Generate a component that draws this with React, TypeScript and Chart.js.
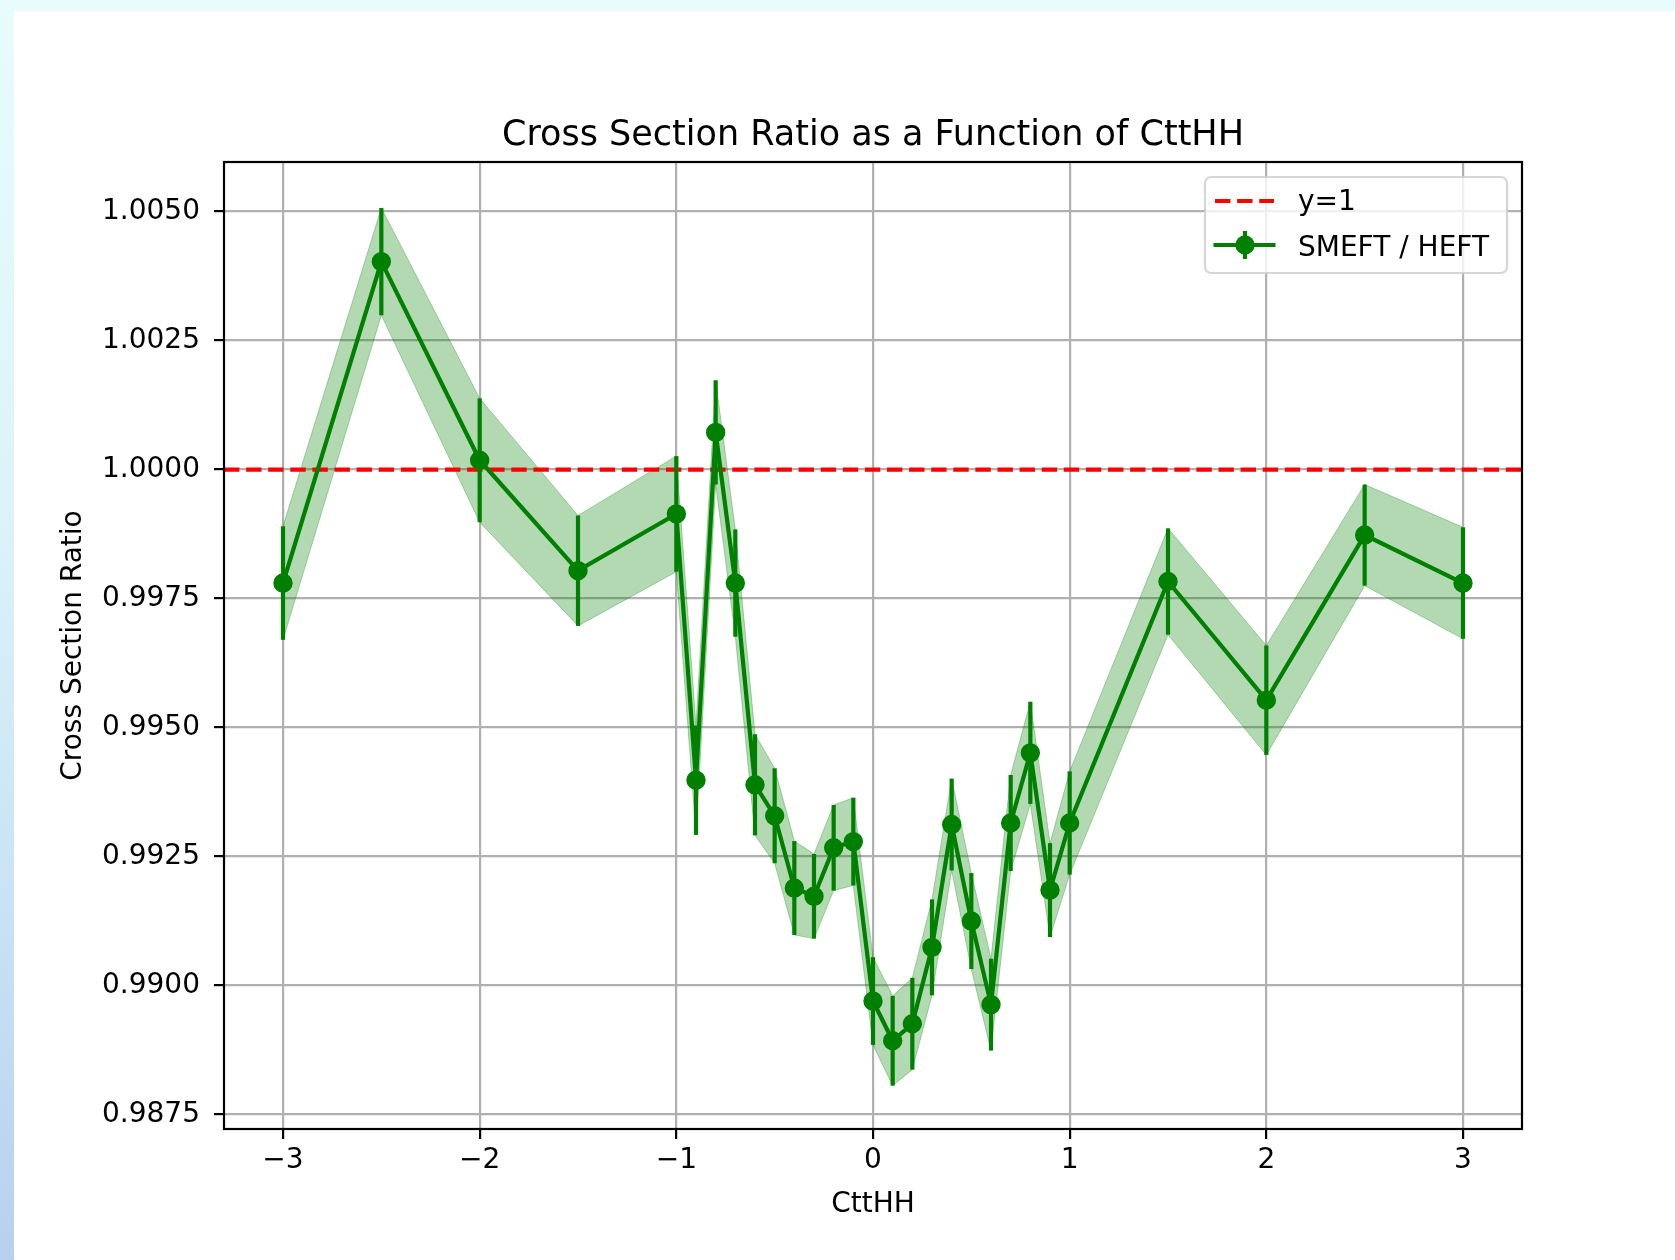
import React, { useEffect, useRef } from 'react';
import { Chart, registerables } from 'chart.js';

Chart.register(...registerables);

// ---------------- data ----------------
const CTTHH = [-3, -2.5, -2, -1.5, -1, -0.9, -0.8, -0.7, -0.6, -0.5, -0.4, -0.3, -0.2, -0.1, 0, 0.1, 0.2, 0.3, 0.4, 0.5, 0.6, 0.7, 0.8, 0.9, 1, 1.5, 2, 2.5, 3];
const RATIO = [0.9978, 1.00403, 1.00018, 0.99804, 0.99914, 0.99398, 1.00072, 0.9978, 0.99389, 0.99329, 0.99189, 0.99173, 0.99267, 0.99279, 0.9897, 0.98893, 0.98926, 0.99074, 0.99312, 0.99125, 0.98963, 0.99315, 0.99451, 0.99185, 0.99315, 0.99783, 0.99553, 0.99873, 0.9978];
const RATIO_ERR = [0.0011, 0.00104, 0.0012, 0.00107, 0.00112, 0.00106, 0.00101, 0.00104, 0.00098, 0.00092, 0.00091, 0.00082, 0.00083, 0.00085, 0.00085, 0.00087, 0.00089, 0.00093, 0.00089, 0.00093, 0.00089, 0.00093, 0.00099, 0.00091, 0.001, 0.00103, 0.00106, 0.00098, 0.00108];
const X_TICKS = [-3, -2, -1, 0, 1, 2, 3];
const Y_TICKS = [0.9875, 0.99, 0.9925, 0.995, 0.9975, 1.0, 1.0025, 1.005];
const X_LIMITS = [-3.3, 3.3];
const Y_LIMITS = [0.98722, 1.00596];
const REF_LINE = 1;

const TITLE = 'Cross Section Ratio as a Function of CttHH';
const X_LABEL = 'CttHH';
const Y_LABEL = 'Cross Section Ratio';
const LEGEND_LABELS = ['y=1', 'SMEFT / HEFT'];

// ---------------- style ----------------
const W = 1675;
const H = 1260;
const AREA = { left: 224, top: 162, right: 1522, bottom: 1129 };
const FONT = '"DejaVu Sans", "Liberation Sans", sans-serif';
const GREEN = '#008000';
const BAND = 'rgba(0,128,0,0.3)';
const LW = 4.2;
const DASH = [15.4, 6.7];

const fmtX = (v: number) => (v < 0 ? '\u2212' + Math.abs(v) : String(v));
const fmtY = (v: number) => v.toFixed(4);

const overlay = {
  id: 'overlay',
  afterDatasetsDraw(chart: any) {
    const ctx = chart.ctx;
    const xs = chart.scales.x;
    const ys = chart.scales.y;
    ctx.save();
    ctx.strokeStyle = GREEN;
    ctx.lineWidth = LW;
    ctx.lineCap = 'butt';
    CTTHH.forEach((x, i) => {
      const px = xs.getPixelForValue(x);
      ctx.beginPath();
      ctx.moveTo(px, ys.getPixelForValue(RATIO[i] - RATIO_ERR[i]));
      ctx.lineTo(px, ys.getPixelForValue(RATIO[i] + RATIO_ERR[i]));
      ctx.stroke();
    });
    const a = chart.chartArea;
    ctx.strokeStyle = '#000';
    ctx.lineWidth = 2.2;
    ctx.strokeRect(a.left, a.top, a.right - a.left, a.bottom - a.top);
    ctx.restore();
  },
  afterDraw(chart: any) {
    const ctx = chart.ctx;
    const a = chart.chartArea;
    const cx = (a.left + a.right) / 2;
    const cy = (a.top + a.bottom) / 2;
    ctx.save();
    ctx.fillStyle = '#000';
    ctx.textBaseline = 'alphabetic';
    // title
    ctx.font = `35px ${FONT}`;
    ctx.textAlign = 'center';
    ctx.fillText(TITLE, cx, 145);
    // x label
    ctx.font = `28px ${FONT}`;
    ctx.fillText(X_LABEL, cx, 1212);
    // y label
    ctx.save();
    ctx.translate(81, cy);
    ctx.rotate(-Math.PI / 2);
    ctx.fillText(Y_LABEL, 0, 0);
    ctx.restore();

    // legend
    const bx = 1205, by = 177, bw = 302, bh = 96, r = 6;
    ctx.beginPath();
    ctx.moveTo(bx + r, by);
    ctx.lineTo(bx + bw - r, by);
    ctx.arcTo(bx + bw, by, bx + bw, by + r, r);
    ctx.lineTo(bx + bw, by + bh - r);
    ctx.arcTo(bx + bw, by + bh, bx + bw - r, by + bh, r);
    ctx.lineTo(bx + r, by + bh);
    ctx.arcTo(bx, by + bh, bx, by + bh - r, r);
    ctx.lineTo(bx, by + r);
    ctx.arcTo(bx, by, bx + r, by, r);
    ctx.closePath();
    ctx.fillStyle = 'rgba(255,255,255,0.8)';
    ctx.fill();
    ctx.strokeStyle = 'rgba(204,204,204,0.8)';
    ctx.lineWidth = 2.2;
    ctx.stroke();

    const hx0 = 1215, hx1 = 1274;
    // y=1 handle
    ctx.strokeStyle = 'red';
    ctx.lineWidth = LW;
    ctx.setLineDash(DASH);
    ctx.beginPath();
    ctx.moveTo(hx0, 201);
    ctx.lineTo(hx1, 201);
    ctx.stroke();
    ctx.setLineDash([]);
    // SMEFT / HEFT handle
    ctx.strokeStyle = GREEN;
    ctx.beginPath();
    ctx.moveTo(hx0 - 1.5, 245);
    ctx.lineTo(hx1 + 1.5, 245);
    ctx.stroke();
    ctx.beginPath();
    ctx.moveTo(1245, 231);
    ctx.lineTo(1245, 259);
    ctx.stroke();
    ctx.fillStyle = GREEN;
    ctx.beginPath();
    ctx.arc(1245, 245, 9.7, 0, Math.PI * 2);
    ctx.fill();

    ctx.fillStyle = '#000';
    ctx.font = `28px ${FONT}`;
    ctx.textAlign = 'left';
    ctx.fillText(LEGEND_LABELS[0], 1298, 210);
    ctx.fillText(LEGEND_LABELS[1], 1298, 256);
    ctx.restore();
  },
};

export default function App() {
  const ref = useRef<HTMLCanvasElement | null>(null);

  useEffect(() => {
    if (!ref.current) return;
    const chart = new Chart(ref.current, {
      type: 'line',
      data: {
        datasets: [
          {
            label: LEGEND_LABELS[1],
            data: CTTHH.map((x, i) => ({ x, y: RATIO[i] })),
            borderColor: GREEN,
            backgroundColor: GREEN,
            borderWidth: LW,
            pointRadius: 8.3,
            pointBorderWidth: 2.8,
            pointBackgroundColor: GREEN,
            pointBorderColor: GREEN,
            fill: false,
            tension: 0,
            order: 0,
          },
          {
            label: LEGEND_LABELS[0],
            data: X_LIMITS.map((x) => ({ x, y: REF_LINE })),
            borderColor: 'red',
            borderWidth: LW,
            borderDash: DASH,
            pointRadius: 0,
            fill: false,
            order: 1,
          },
          {
            label: 'upper',
            data: CTTHH.map((x, i) => ({ x, y: RATIO[i] + RATIO_ERR[i] })),
            borderColor: BAND,
            backgroundColor: BAND,
            borderWidth: 1,
            pointRadius: 0,
            fill: '+1',
            tension: 0,
            order: 2,
          },
          {
            label: 'lower',
            data: CTTHH.map((x, i) => ({ x, y: RATIO[i] - RATIO_ERR[i] })),
            borderColor: BAND,
            backgroundColor: BAND,
            borderWidth: 1,
            pointRadius: 0,
            fill: false,
            tension: 0,
            order: 3,
          },
        ],
      },
      options: {
        responsive: false,
        animation: false,
        devicePixelRatio: 1,
        events: [],
        layout: { padding: { left: 0, top: AREA.top, right: W - AREA.right, bottom: 0 } },
        plugins: {
          legend: { display: false },
          tooltip: { enabled: false },
          title: { display: false },
        },
        scales: {
          x: {
            type: 'linear',
            min: X_LIMITS[0],
            max: X_LIMITS[1],
            afterFit: (s: any) => {
              s.height = H - AREA.bottom;
            },
            afterBuildTicks: (s: any) => {
              s.ticks = X_TICKS.map((v) => ({ value: v }));
            },
            ticks: {
              callback: (v: any) => fmtX(Number(v)),
              font: { family: FONT, size: 28 },
              color: '#000',
              padding: 5,
              maxRotation: 0,
              autoSkip: false,
            },
            grid: {
              color: '#b0b0b0',
              lineWidth: 2.2,
              drawTicks: true,
              tickLength: 10,
              tickColor: '#000',
              tickWidth: 2.2,
            },
            border: { display: false },
          },
          y: {
            type: 'linear',
            min: Y_LIMITS[0],
            max: Y_LIMITS[1],
            afterFit: (s: any) => {
              s.width = AREA.left;
            },
            afterBuildTicks: (s: any) => {
              s.ticks = Y_TICKS.map((v) => ({ value: v }));
            },
            ticks: {
              callback: (v: any) => fmtY(Number(v)),
              font: { family: FONT, size: 28 },
              color: '#000',
              padding: 14,
              autoSkip: false,
            },
            grid: {
              color: '#b0b0b0',
              lineWidth: 2.2,
              drawTicks: true,
              tickLength: 10,
              tickColor: '#000',
              tickWidth: 2.2,
            },
            border: { display: false },
          },
        },
      },
      plugins: [overlay],
    });
    return () => chart.destroy();
  }, []);

  return (
    <div
      style={{
        position: 'absolute',
        left: 0,
        top: 0,
        width: W,
        height: H,
        overflow: 'hidden',
        background: 'linear-gradient(180deg, #e8fcfc 0%, #dcf3f9 40%, #c6e1f3 75%, #b8d0ee 100%)',
      }}
    >
      <div style={{ position: 'absolute', left: 14, top: 11, right: 0, bottom: 0, background: '#fff' }} />
      <canvas ref={ref} width={W} height={H} style={{ position: 'absolute', left: 0, top: 0, width: W, height: H }} />
    </div>
  );
}
